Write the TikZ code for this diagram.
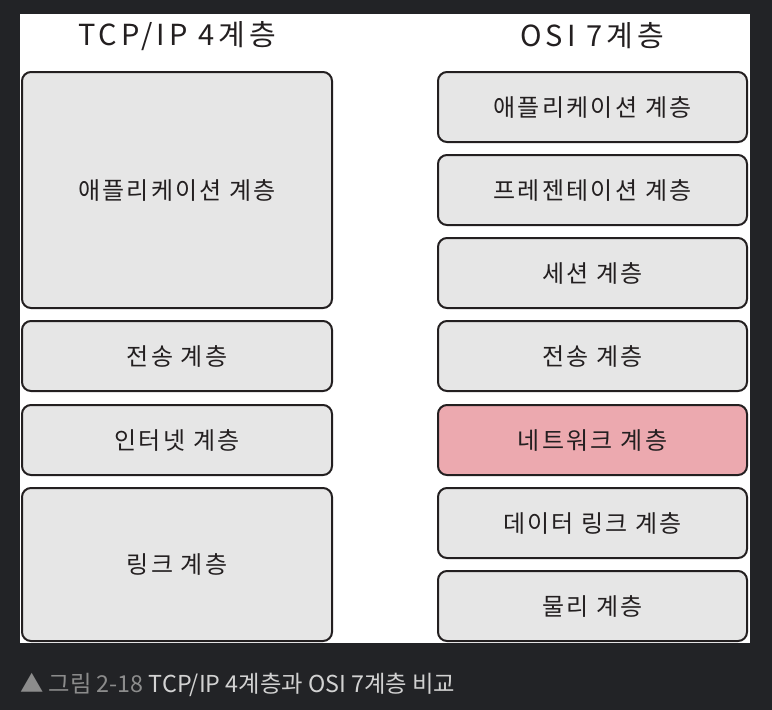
\documentclass[tikz,border=0pt]{standalone}
\usepackage{fontspec}
\setmainfont{Noto Sans CJK KR}
\newfontfamily\handbox[LetterSpace=9.5]{Noto Sans CJK KR}
\newfontfamily\handhead[LetterSpace=14]{Noto Sans CJK KR}
\definecolor{bg}{HTML}{222326}
\definecolor{boxfill}{HTML}{E6E6E6}
\definecolor{pinkfill}{HTML}{ECA9AF}
\definecolor{stroke}{HTML}{231F20}
\definecolor{capdark}{HTML}{8C8C8C}
\definecolor{caplight}{HTML}{D2D2D2}
\begin{document}
\begin{tikzpicture}[x=1pt,y=-1pt,
  layerbox/.style={draw=stroke, fill=boxfill, line width=2pt, rounded corners=9pt,
    text=stroke, font=\handbox\fontsize{24}{27}\selectfont, inner sep=0pt},
  leftbox/.style={layerbox, minimum width=310pt},
  rightbox/.style={layerbox, minimum width=309pt, minimum height=70pt},
  heading/.style={text=stroke, font=\handhead\fontsize{29}{32}\selectfont, inner sep=0pt}]
\fill[bg] (0,0) rectangle (772,710);
\fill[white] (20,14) rectangle (750,643);
\useasboundingbox (0,0) rectangle (772,710);
\begin{scope}
\clip (20,14) rectangle (750,643);
\node[heading] (h1) at (177,36) {TCP/IP 4계층};
\node[heading] (h2) at (592,36) {OSI 7계층};
\node[leftbox, minimum height=236pt] (t1) at (177,190) {애플리케이션 계층};
\node[leftbox, minimum height=70pt] (t2) at (177,356) {전송 계층};
\node[leftbox, minimum height=70pt] (t3) at (177,440) {인터넷 계층};
\node[leftbox, minimum height=153pt] (t4) at (177,564.5) {링크 계층};
\node[rightbox] (o1) at (592.5,107) {애플리케이션 계층};
\node[rightbox] (o2) at (592.5,190) {프레젠테이션 계층};
\node[rightbox] (o3) at (592.5,273) {세션 계층};
\node[rightbox] (o4) at (592.5,356) {전송 계층};
\node[rightbox, fill=pinkfill] (o5) at (592.5,440) {네트워크 계층};
\node[rightbox] (o6) at (592.5,523) {데이터 링크 계층};
\node[rightbox] (o7) at (592.5,606) {물리 계층};
\end{scope}
\node[anchor=base west, inner sep=0pt, font=\fontsize{23.3}{26}\selectfont] (cap) at (20,692)
  {\textcolor{capdark}{▲ 그림 2-18} \textcolor{caplight}{TCP/IP 4계층과 OSI 7계층 비교}};
\end{tikzpicture}
\end{document}
